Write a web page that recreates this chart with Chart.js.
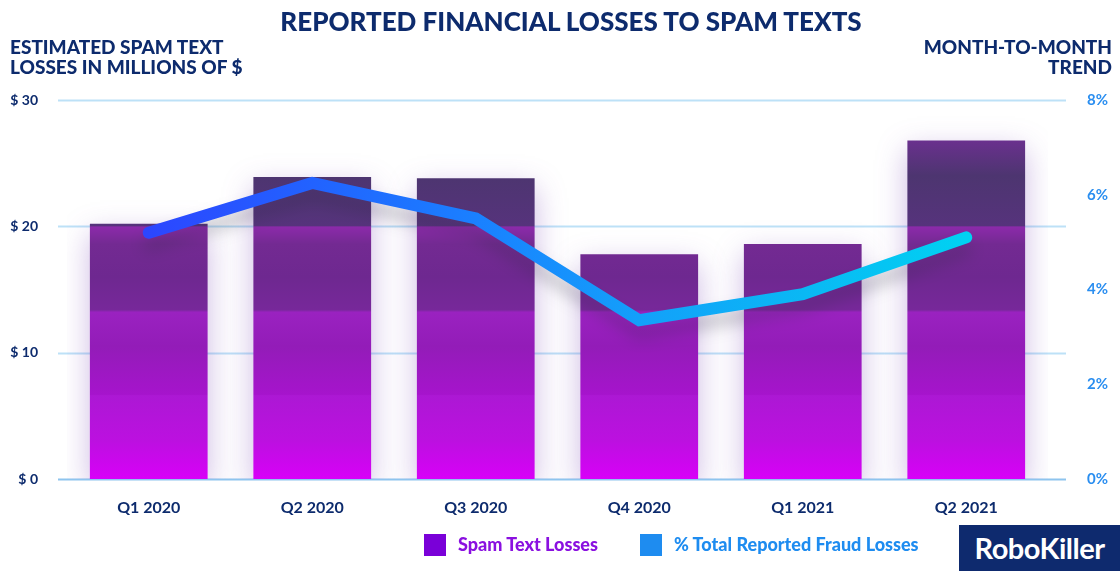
<!DOCTYPE html>
<html lang="en">
  <head>
    <meta charset="UTF-8" />
    <title>Reported financial losses to spam texts</title>
    <script src="https://cdn.jsdelivr.net/npm/chart.js@4.4.1/dist/chart.umd.min.js"></script>
    <style>
      body { margin: 0; background: #fff; }
      #quadro { position: relative; width: 1120px; height: 571px; overflow: hidden; font-family: Lato, sans-serif; color: #0d2b6d; }
      #grafico { position: absolute; left: 0; top: 0; }
      .titulo { position: absolute; left: 0; width: 1120px; top: 5px; text-align: center; font-size: 26px; font-weight: 900; padding-left: 22px; box-sizing: border-box; }
      .eixo { position: absolute; top: 37px; font-size: 19px; font-weight: 900; line-height: 20px; }
      .esq { left: 10px; }
      .dir { right: 8px; text-align: right; }
      .legenda { position: absolute; top: 534px; height: 22px; font-size: 18px; font-weight: 700; line-height: 22px; }
      .legenda span { position: absolute; left: 0; top: 0; width: 22px; height: 22px; }
      .legenda b { position: absolute; left: 34px; top: -1px; white-space: nowrap; }
      .logo { position: absolute; left: 959px; top: 525px; width: 161px; height: 46px; background: #0e2a6e; color: #fff; font-size: 29px; font-weight: 700; line-height: 46px; text-align: center; letter-spacing: -0.5px; }
    </style>
  </head>
  <body>
    <div id="quadro">
      <canvas id="grafico" width="1120" height="571"></canvas>
      <div class="titulo">REPORTED FINANCIAL LOSSES TO SPAM TEXTS</div>
      <div class="eixo esq">ESTIMATED SPAM TEXT<br />LOSSES IN MILLIONS OF $</div>
      <div class="eixo dir">MONTH-TO-MONTH<br />TREND</div>
      <div class="legenda" style="left: 424px; color: #8a10e0"><span style="background: #7a00d8"></span><b>Spam Text Losses</b></div>
      <div class="legenda" style="left: 640px; color: #1e8cf0"><span style="background: #1e8cf0"></span><b>% Total Reported Fraud Losses</b></div>
      <div class="logo">RoboKiller</div>
    </div>
  </body>
</html>

<script>
  // dados
  const trimestres = ["Q1 2020", "Q2 2020", "Q3 2020", "Q4 2020", "Q1 2021", "Q2 2021"];
  const perdasSpam = [20.2, 23.9, 23.8, 17.8, 18.6, 26.8]; // milhoes de $
  const percentualFraude = [5.2, 6.25, 5.5, 3.35, 3.9, 5.1]; // %
  const ticksDolar = [0, 10, 20, 30];
  const ticksPercentual = [0, 2, 4, 6, 8];

  const azulEscuro = "#0d2b6d";

  // gradiente em faixas das barras (valor, cor)
  const faixasBarra = [
    [0, "#d800f8"], [3, "#bc10e0"], [6.6, "#ac18d4"],
    [6.7, "#a614cc"], [10.5, "#931cb8"], [13.2, "#9a22c0"],
    [13.4, "#77289a"], [16, "#6e2890"], [18.6, "#732a92"], [19.95, "#8c2aaa"],
    [20.05, "#56337c"], [24, "#4d3570"], [27, "#6c3090"], [30, "#8a2aa8"],
  ];

  function gradienteBarras(chart) {
    const escala = chart.scales.y;
    const y0 = escala.getPixelForValue(0);
    const y30 = escala.getPixelForValue(30);
    const g = chart.ctx.createLinearGradient(0, y0, 0, y30);
    for (let i = 0; i < faixasBarra.length; i++) {
      g.addColorStop(faixasBarra[i][0] / 30, faixasBarra[i][1]);
    }
    return g;
  }

  function gradienteLinha(chart) {
    const area = chart.chartArea;
    const g = chart.ctx.createLinearGradient(area.left + 80, 0, area.right - 80, 0);
    g.addColorStop(0, "#2c46ff");
    g.addColorStop(0.2, "#2262ff");
    g.addColorStop(0.4, "#1a80ff");
    g.addColorStop(0.6, "#13a0fa");
    g.addColorStop(0.8, "#0ab8f4");
    g.addColorStop(1, "#00d2f2");
    return g;
  }

  const linhasGrade = {
    id: "linhasGrade",
    beforeDatasetsDraw(chart) {
      const ctx = chart.ctx;
      const escala = chart.scales.y;
      ctx.save();
      for (let i = 0; i < ticksDolar.length; i++) {
        const y = Math.round(escala.getPixelForValue(ticksDolar[i])) + 0.5;
        ctx.strokeStyle = ticksDolar[i] === 0 ? "#8ec4ee" : "#bde1f7";
        ctx.lineWidth = 2;
        ctx.beginPath();
        ctx.moveTo(58, y);
        ctx.lineTo(1066, y);
        ctx.stroke();
      }
      ctx.restore();
    },
  };

  const sombras = {
    id: "sombras",
    beforeDatasetDraw(chart, args) {
      const ctx = chart.ctx;
      ctx.save();
      if (args.index === 0) {
        ctx.shadowColor = "rgba(100, 40, 170, 0.32)";
        ctx.shadowBlur = 28;
        ctx.shadowOffsetY = 10;
      } else {
        ctx.shadowColor = "rgba(40, 40, 60, 0.28)";
        ctx.shadowBlur = 16;
        ctx.shadowOffsetY = 12;
      }
    },
    afterDatasetDraw(chart) {
      chart.ctx.restore();
    },
  };

  Chart.defaults.font.family = "Lato, sans-serif";

  new Chart(document.getElementById("grafico"), {
    type: "bar",
    data: {
      labels: trimestres,
      datasets: [
        {
          type: "bar",
          label: "Spam Text Losses",
          data: perdasSpam,
          yAxisID: "y",
          order: 2,
          backgroundColor: (c) => (c.chart.chartArea ? gradienteBarras(c.chart) : "#8a20c0"),
          borderWidth: 0,
          categoryPercentage: 1,
          barPercentage: 0.72,
        },
        {
          type: "line",
          label: "% Total Reported Fraud Losses",
          data: percentualFraude,
          yAxisID: "y1",
          order: 1,
          borderColor: (c) => (c.chart.chartArea ? gradienteLinha(c.chart) : "#1e8cf0"),
          borderWidth: 12,
          borderCapStyle: "round",
          borderJoinStyle: "miter",
          pointRadius: 0,
          tension: 0,
          fill: false,
        },
      ],
    },
    options: {
      responsive: false,
      animation: false,
      layout: { padding: { top: 100, left: 0, right: 0, bottom: 0 } },
      plugins: { legend: { display: false }, tooltip: { enabled: false } },
      scales: {
        x: {
          grid: { display: false, drawTicks: false },
          border: { display: false },
          ticks: { color: azulEscuro, font: { size: 16, weight: "bold" }, padding: 19 },
          afterFit(escala) { escala.height = 92; },
        },
        y: {
          position: "left",
          min: 0,
          max: 30,
          grid: { display: false, drawTicks: false },
          border: { display: false },
          afterBuildTicks(escala) { escala.ticks = ticksDolar.map((v) => ({ value: v })); },
          ticks: {
            color: azulEscuro,
            font: { size: 14, weight: "bold" },
            padding: 29,
            callback: (v) => "$ " + v,
          },
          afterFit(escala) { escala.width = 67; },
        },
        y1: {
          position: "right",
          min: 0,
          max: 8,
          grid: { display: false, drawTicks: false },
          border: { display: false },
          afterBuildTicks(escala) { escala.ticks = ticksPercentual.map((v) => ({ value: v })); },
          ticks: {
            color: "#2a8ef0",
            font: { size: 15, weight: "bold" },
            padding: 39,
            callback: (v) => v + "%",
          },
          afterFit(escala) { escala.width = 72; },
        },
      },
    },
    plugins: [linhasGrade, sombras],
  });
</script>
